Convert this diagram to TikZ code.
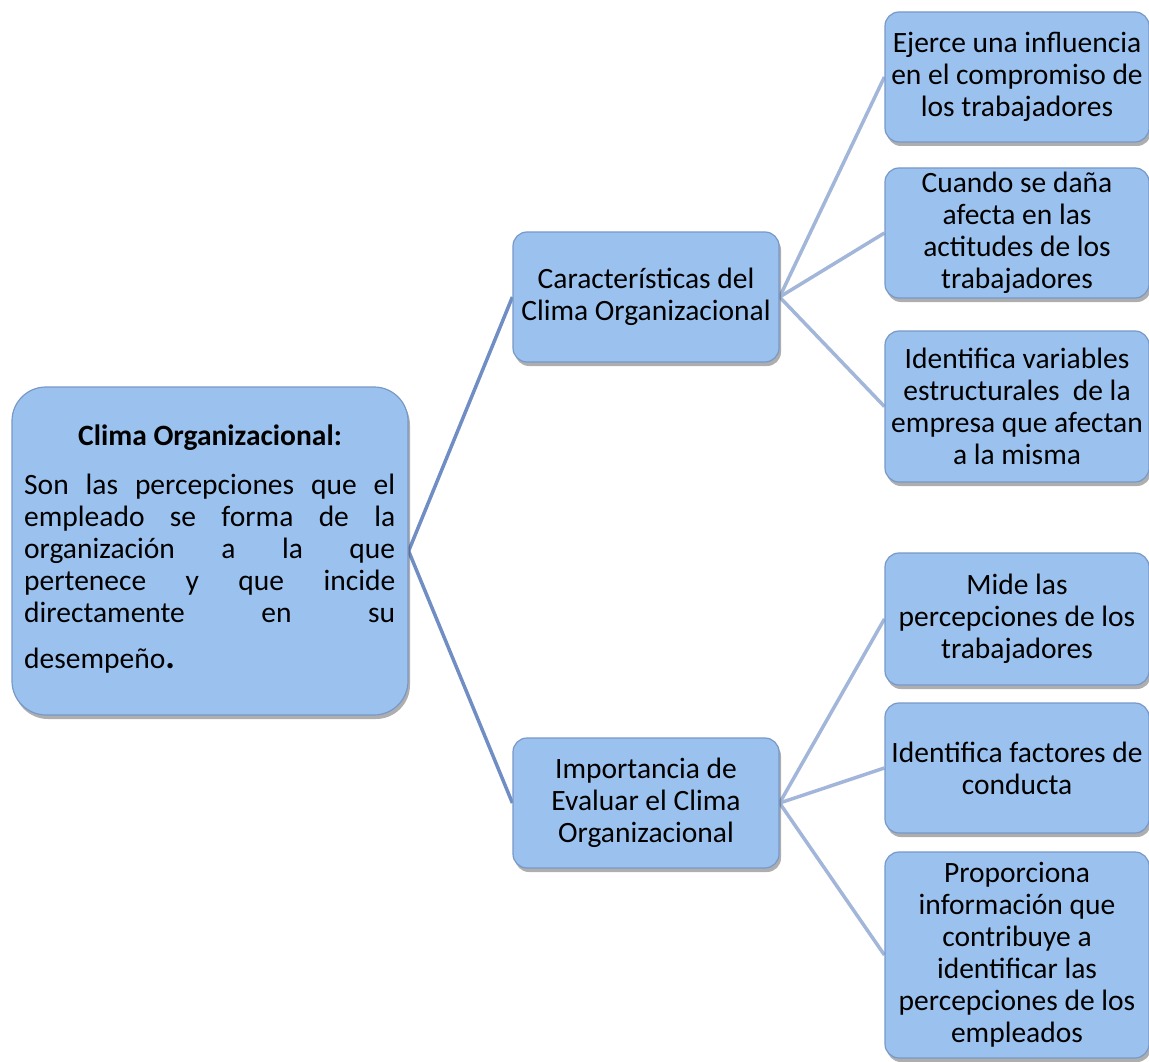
\documentclass[tikz,border=0pt]{standalone}
\usepackage{fontspec}
\setmainfont{Carlito}
\usetikzlibrary{shadows,backgrounds}
\definecolor{boxfill}{RGB}{155,194,238}
\definecolor{boxline}{RGB}{120,152,200}
\definecolor{trunk}{RGB}{112,142,196}
\definecolor{twig}{RGB}{162,182,218}
\newcommand{\cardfont}{\fontsize{29.5}{32}\selectfont}
% a fully justified line of the definition text
\newcommand{\fullline}[1]{{\spaceskip=0.25em plus 1fil\relax\makebox[371pt][s]{#1}}}
\tikzset{
  card/.style={draw=boxline, line width=1.2pt, fill=boxfill, rounded corners=14pt,
    drop shadow={shadow xshift=2pt, shadow yshift=-4pt, opacity=0.45, fill=black!70},
    align=center, inner sep=0pt, font=\cardfont},
  midbox/.style={card, minimum width=266pt, minimum height=130pt},
  leafbox/.style={card, minimum width=264pt},
  trunkline/.style={draw=trunk, line width=3.5pt},
  twigline/.style={draw=twig, line width=3.5pt}
}
\begin{document}
\begin{tikzpicture}[x=1pt,y=-1pt]
\useasboundingbox (0,0) rectangle (1149,1062);

% root concept
\node[card, rounded corners=34pt, minimum width=396pt, minimum height=328pt] (root) at (210,551) {};
\node[font=\cardfont\bfseries, inner sep=0pt] (roottitle) at (210,438) {Clima Organizacional:};
\node[font=\cardfont, text width=371pt, align=left, inner sep=0pt, anchor=north west] (rootbody) at (24,474) {%
\fullline{Son las percepciones que el}\\
\fullline{empleado se forma de la}\\
\fullline{organización a la que}\\
\fullline{pertenece y que incide}\\
\fullline{directamente en su}\\[14pt]
desempeño{\fontsize{36}{32}\selectfont\bfseries .}};

% second level
\node[midbox] (car) at (646,297) {Características del\\Clima Organizacional};
\node[midbox] (imp) at (646,803) {Importancia de\\Evaluar el Clima\\Organizacional};

% leaves
\node[leafbox, minimum height=130pt] (l1) at (1017,77) {Ejerce una influencia\\en el compromiso de\\los trabajadores};
\node[leafbox, minimum height=130pt] (l2) at (1017,233) {Cuando se daña\\afecta en las\\actitudes de los\\trabajadores};
\node[leafbox, minimum height=151pt] (l3) at (1017,406.5) {Identifica variables\\estructurales\ \ de la\\empresa que afectan\\a la misma};
\node[leafbox, minimum height=132pt] (l4) at (1017,619) {Mide las\\percepciones de los\\trabajadores};
\node[leafbox, minimum height=130pt] (l5) at (1017,768) {Identifica factores de\\conducta};
\node[leafbox, minimum height=206pt] (l6) at (1017,955) {Proporciona\\información que\\contribuye a\\identificar las\\percepciones de los\\empleados};

% connectors
\begin{scope}[on background layer]
\draw[trunkline] (root.east) -- (car.west);
\draw[trunkline] (root.east) -- (imp.west);
\draw[twigline] (car.east) -- (l1.west);
\draw[twigline] (car.east) -- (l2.west);
\draw[twigline] (car.east) -- (l3.west);
\draw[twigline] (imp.east) -- (l4.west);
\draw[twigline] (imp.east) -- (l5.west);
\draw[twigline] (imp.east) -- (l6.west);
\end{scope}
\end{tikzpicture}
\end{document}
